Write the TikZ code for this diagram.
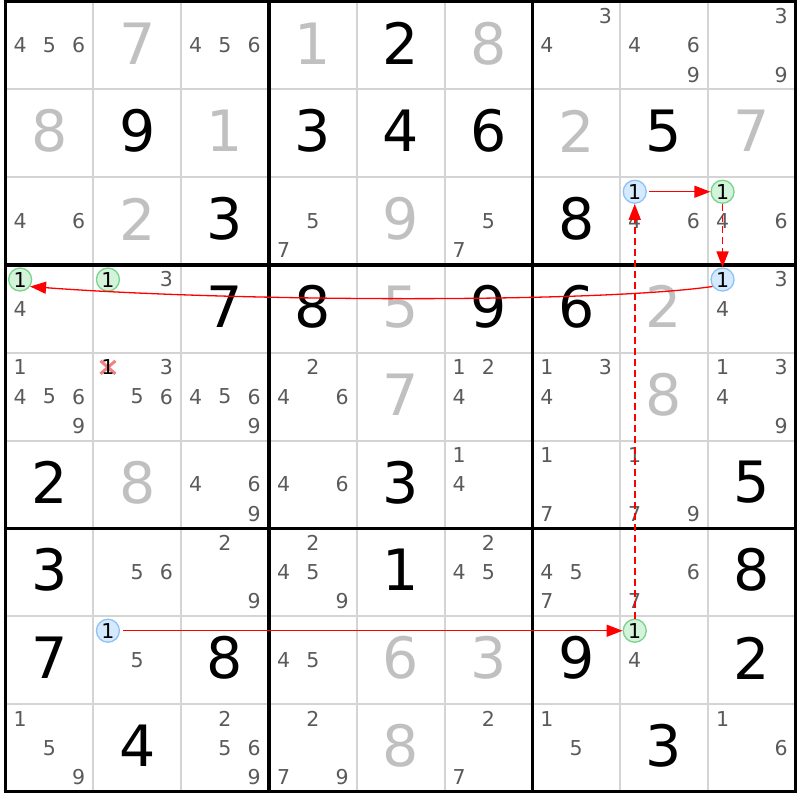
\documentclass[tikz,border=0pt]{standalone}
\usepackage{fontspec}
\setmainfont{DejaVu Sans}
\usetikzlibrary{arrows.meta}
\definecolor{candgray}{RGB}{90,90,90}
\definecolor{solvedgray}{RGB}{192,192,192}
\definecolor{thingray}{RGB}{212,212,212}
\definecolor{fillblue}{RGB}{214,234,255}
\definecolor{lineblue}{RGB}{140,195,245}
\definecolor{fillgreen}{RGB}{212,243,219}
\definecolor{linegreen}{RGB}{120,212,138}
\definecolor{crosspink}{RGB}{242,130,130}
\def\cs{87.8}
\tikzset{
  cand/.style={inner sep=0pt,text=candgray,font=\fontsize{20.5}{20}\selectfont},
  given/.style={inner sep=0pt,yshift=2pt,font=\fontsize{57}{57}\selectfont},
  solved/.style={given,text=solvedgray},
  dot/.style={circle,inner sep=0pt,minimum size=23pt,line width=1.3pt,font=\fontsize{20.5}{20}\selectfont},
  bluedot/.style={dot,draw=lineblue,fill=fillblue},
  greendot/.style={dot,draw=linegreen,fill=fillgreen},
  link/.style={red,line width=1.3pt,-{Triangle[length=16pt,width=12pt]}},
  weak/.style={link,line width=1.7pt,dash pattern=on 7pt off 4pt}
}
\begin{document}
\begin{tikzpicture}[x=1pt,y=1pt]
\useasboundingbox (-5.5,1.5) rectangle (794.5,-798.5);
% cell centres and candidate places
\foreach \r in {1,...,9}
  \foreach \c in {1,...,9}{
    \coordinate (m\r\c) at ({(\c-0.5)*\cs},{-(\r-0.5)*\cs});
    \foreach \d in {1,...,9}{
      \pgfmathsetmacro\cx{(\c-1)*\cs+(mod(\d-1,3)+0.5)*\cs/3}
      \pgfmathsetmacro\cy{-(\r-1)*\cs-(floor((\d-1)/3)+0.5)*\cs/3}
      \coordinate (p\r\c\d) at (\cx,\cy);
    }
  }
\foreach \i in {1,...,8}{
  \draw[thingray,line width=2pt] (\i*\cs,0)--(\i*\cs,-9*\cs);
  \draw[thingray,line width=2pt] (0,-\i*\cs)--(9*\cs,-\i*\cs);
}
\foreach \i in {0,3,6,9}{
  \draw[line width=3.5pt] (\i*\cs,1.75)--(\i*\cs,-9*\cs-1.75);
  \draw[line width=3.5pt] (-1.75,-\i*\cs)--(9*\cs+1.75,-\i*\cs);
}
% givens
\foreach \r/\c/\v in {1/5/2,2/2/9,2/4/3,2/5/4,2/6/6,2/8/5,3/3/3,3/7/8,4/3/7,4/4/8,4/6/9,4/7/6,
  6/1/2,6/5/3,6/9/5,7/1/3,7/5/1,7/9/8,8/1/7,8/3/8,8/7/9,8/9/2,9/2/4,9/8/3}
  \node[given] (v\r\c) at (m\r\c) {\v};
% solved
\foreach \r/\c/\v in {1/2/7,1/4/1,1/6/8,2/1/8,2/3/1,2/7/2,2/9/7,3/2/2,3/5/9,4/5/5,4/8/2,
  5/5/7,5/8/8,6/2/8,8/5/6,8/6/3,9/5/8}
  \node[solved] (v\r\c) at (m\r\c) {\v};
% candidates
\foreach \r/\c/\ds in {1/1/{4,5,6},1/3/{4,5,6},1/7/{3,4},1/8/{4,6,9},1/9/{3,9},
  3/1/{4,6},3/4/{5,7},3/6/{5,7},3/8/{4,6},3/9/{4,6},
  4/1/{4},4/2/{3},4/9/{3,4},
  5/1/{1,4,5,6,9},5/2/{3,5,6},5/3/{4,5,6,9},5/4/{2,4,6},5/6/{1,2,4},5/7/{1,3,4},5/9/{1,3,4,9},
  6/3/{4,6,9},6/4/{4,6},6/6/{1,4},6/7/{1,7},6/8/{1,7,9},
  7/2/{5,6},7/3/{2,9},7/4/{2,4,5,9},7/6/{2,4,5},7/7/{4,5,7},7/8/{6,7},
  8/2/{5},8/4/{4,5},8/8/{4},
  9/1/{1,5,9},9/3/{2,5,6,9},9/4/{2,7,9},9/6/{2,7},9/7/{1,5},9/9/{1,6}}
  \foreach \d in \ds
    \node[cand] (k\r\c\d) at (p\r\c\d) {\d};
\draw[crosspink,line width=3pt] (p521) ++(-7.5,-6.5)--++(15,13) (p521) ++(-7.5,6.5)--++(15,-13);
\node[cand,text=black] (k521) at (p521) {1};
% chain
\node[bluedot] (b38) at (p381) {1};
\node[greendot] (g39) at (p391) {1};
\node[bluedot] (b49) at (p491) {1};
\node[greendot] (g41) at (p411) {1};
\node[greendot] (g42) at (p421) {1};
\node[bluedot] (b82) at (p821) {1};
\node[greendot] (g88) at (p881) {1};
\draw[link,shorten <=2pt] (b38)--(g39);
\draw[weak] (g39)--(b49);
\draw[link] (b49.215) .. controls +(-120,-17) and +(200,-15) .. (g41.-35);
\draw[link,shorten <=3pt] (b82)--(g88);
\draw[weak] (g88)--(b38);
\end{tikzpicture}
\end{document}
